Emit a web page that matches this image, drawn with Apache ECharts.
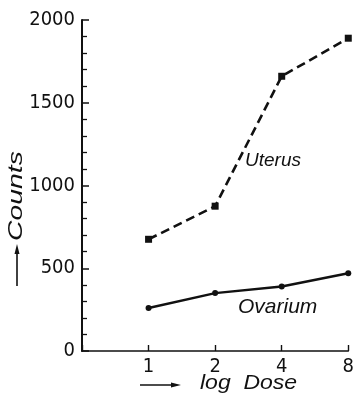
<!DOCTYPE html>
<html><head><meta charset="utf-8">
<script src="https://cdn.jsdelivr.net/npm/echarts@6/dist/echarts.min.js"></script>
<style>html,body{margin:0;padding:0;background:#fff}#c{width:357px;height:396px}</style>
</head><body><div id="c"></div>
<script>
var doses = [1, 2, 4, 8];
var uterus = [675, 875, 1660, 1890];
var ovarium = [260, 350, 390, 470];
var yTicks = [0, 500, 1000, 1500, 2000];

var ink = '#111';
var tickFont = '"DejaVu Sans Condensed", "Liberation Sans", sans-serif';
var chart = echarts.init(document.getElementById('c'));
chart.setOption({
  backgroundColor: '#fff',
  animation: false,
  grid: {left: 82, right: 8, top: 20, bottom: 45},
  xAxis: {
    type: 'log', logBase: 2, min: 0.5, max: 8,
    axisLine: {show: true, lineStyle: {color: ink, width: 1.6}},
    axisTick: {inside: true, length: 6, lineStyle: {color: ink, width: 1.4}},
    axisLabel: {color: ink, fontFamily: tickFont, fontSize: 20, margin: 6,
      formatter: function (v) { return v < 1 ? '' : String(v); }},
    splitLine: {show: false}
  },
  yAxis: {
    type: 'value', min: 0, max: 2000, interval: 500,
    axisLine: {show: true, lineStyle: {color: ink, width: 2}},
    axisTick: {show: true, inside: true, length: 7, lineStyle: {color: ink, width: 1.5}},
    minorTick: {show: true, splitNumber: 5, length: 5, lineStyle: {color: ink, width: 1.3}},
    axisLabel: {color: ink, fontFamily: tickFont, fontSize: 20, margin: 7,
      formatter: function (v) { return yTicks.indexOf(v) >= 0 ? String(v) : ''; }},
    splitLine: {show: false}
  },
  series: [
    {name: 'Uterus', type: 'line', data: doses.map(function (d, i) { return [d, uterus[i]]; }),
      symbol: 'rect', symbolSize: 7, itemStyle: {color: ink},
      lineStyle: {color: ink, width: 2.6, type: [9, 5]}},
    {name: 'Ovarium', type: 'line', data: doses.map(function (d, i) { return [d, ovarium[i]]; }),
      symbol: 'circle', symbolSize: 6, itemStyle: {color: ink},
      lineStyle: {color: ink, width: 2.4}}
  ],
  graphic: [
    {type: 'text', left: 245, top: 151, style: {text: 'Uterus', fill: ink, font: 'italic 19px "Liberation Sans"'}},
    {type: 'text', left: 238, top: 297, style: {text: 'Ovarium', fill: ink, font: 'italic 21px "Liberation Sans"'}},
    {type: 'text', x: 6, y: 241, rotation: Math.PI / 2, scaleX: 1.35,
      style: {text: 'Counts', fill: ink, font: 'italic 21px "Liberation Sans"', textAlign: 'left', textVerticalAlign: 'top'}},
    {type: 'line', shape: {x1: 17, y1: 286, x2: 17, y2: 250}, style: {stroke: ink, lineWidth: 1.6}},
    {type: 'polygon', shape: {points: [[17, 244], [14.5, 254], [19.5, 254]]}, style: {fill: ink}},
    {type: 'line', shape: {x1: 140, y1: 385, x2: 174, y2: 385}, style: {stroke: ink, lineWidth: 1.6}},
    {type: 'polygon', shape: {points: [[181, 385], [171, 382.5], [171, 387.5]]}, style: {fill: ink}},
    {type: 'text', left: 200, top: 373, scaleX: 1.15, style: {text: 'log  Dose', fill: ink, font: 'italic 20px "Liberation Sans"'}}
  ]
});
</script></body></html>
